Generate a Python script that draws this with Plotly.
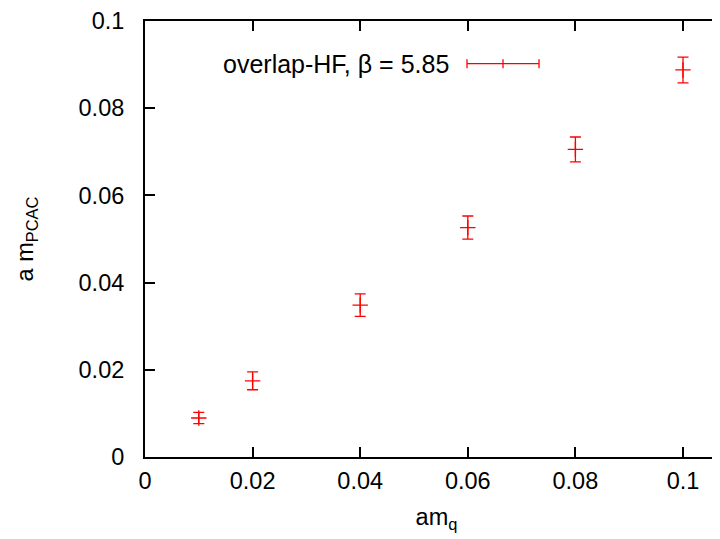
import plotly.graph_objects as go

# Data
am_q = [0.01, 0.02, 0.04, 0.06, 0.08, 0.10]
am_pcac = [0.00895, 0.01747, 0.03485, 0.05262, 0.07055, 0.08877]
am_pcac_err = [0.0013, 0.00205, 0.00258, 0.00266, 0.00285, 0.00296]
x_ticks = [0, 0.02, 0.04, 0.06, 0.08, 0.1]
x_tick_labels = ["0", "0.02", "0.04", "0.06", "0.08", "0.1"]
y_ticks = [0, 0.02, 0.04, 0.06, 0.08, 0.1]
y_tick_labels = ["0", "0.02", "0.04", "0.06", "0.08", "0.1"]
legend_label = "overlap-HF, \u03b2 = 5.85"

W, H = 720, 539
OFF = 8  # page body offset
ML, MR, MT, MB = 145 - OFF, 0, 18 - OFF, H - (457 - OFF)
PW, PH = W - ML - MR, H - MT - MB
FONT = "Liberation Sans, Arial, Helvetica, sans-serif"
RED = "#ff0000"

def px(xs):
    return (xs - OFF - ML) / PW

def py(ys):
    return (H - MB - (ys - OFF)) / PH

fig = go.Figure()
fig.add_trace(go.Scatter(
    x=am_q, y=am_pcac, mode="markers",
    marker=dict(symbol="cross-thin-open", size=11, color=RED,
                line=dict(color=RED, width=1.3)),
    error_y=dict(type="data", array=am_pcac_err, visible=True,
                 color=RED, thickness=1.3, width=5.5),
    showlegend=False,
))

# custom gnuplot-style key
ly = 61
fig.add_shape(type="line", xref="paper", yref="paper",
              x0=px(467), x1=px(539), y0=py(ly), y1=py(ly),
              line=dict(color=RED, width=1.3))
for xx in (467, 503, 539):
    fig.add_shape(type="line", xref="paper", yref="paper",
                  x0=px(xx), x1=px(xx), y0=py(ly - 4.5), y1=py(ly + 4.5),
                  line=dict(color=RED, width=1.3))
fig.add_annotation(xref="paper", yref="paper", x=px(451), y=py(ly),
                   text=legend_label, showarrow=False, xanchor="right",
                   yanchor="middle", font=dict(family=FONT, size=25, color="black"))

fig.update_layout(
    width=W, height=H,
    margin=dict(l=ML, r=MR, t=MT, b=MB, pad=0),
    paper_bgcolor="white", plot_bgcolor="white",
    font=dict(family=FONT, size=23.5, color="black"),
    xaxis=dict(
        range=[0, PW / 5380.0], tickvals=x_ticks, ticktext=x_tick_labels,
        ticks="inside", ticklen=10, tickwidth=1.5, tickcolor="black",
        showline=True, linecolor="black", linewidth=2, mirror="ticks",
        showgrid=False, zeroline=False, ticklabelstandoff=2,
        ticklabeloverflow="allow",
        title=dict(text="am<sub>q</sub>", standoff=15,
                   font=dict(family=FONT, size=23.5)),
    ),
    yaxis=dict(
        range=[0, 0.1], tickvals=y_ticks, ticktext=y_tick_labels,
        ticks="inside", ticklen=10, tickwidth=1.5, tickcolor="black",
        showline=True, linecolor="black", linewidth=2, mirror=False,
        showgrid=False, zeroline=False, ticklabelstandoff=14,
        ticklabeloverflow="allow",
        title=dict(text="a m<sub>PCAC</sub>", standoff=38,
                   font=dict(family=FONT, size=23.5)),
    ),
)

fig.write_html("out.html")
